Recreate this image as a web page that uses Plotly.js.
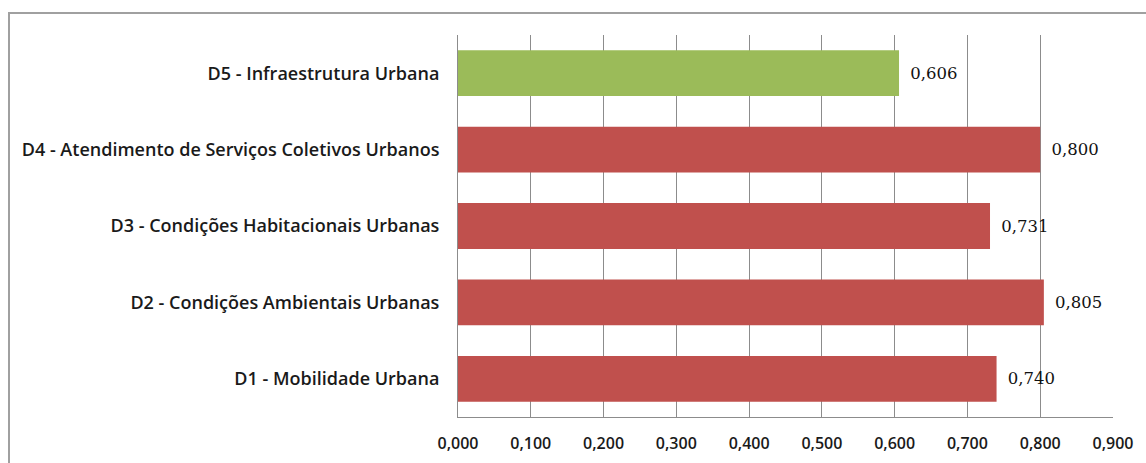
<!DOCTYPE html>
<html><head><meta charset="utf-8">
<script src="https://cdn.plot.ly/plotly-3.0.1.min.js"></script>
<style>html,body{margin:0;padding:0;background:#fff;}#wrap{position:relative;width:1146px;height:463px;}
#frame{position:absolute;left:8px;top:12px;width:1200px;height:500px;border-left:2px solid #a0a0a0;border-top:2px solid #a0a0a0;pointer-events:none;}</style>
</head><body>
<div id="wrap"><div id="chart" style="width:1146px;height:463px;"></div><div id="frame"></div></div>
<script>
const categories = ["D1 - Mobilidade Urbana","D2 - Condições Ambientais Urbanas","D3 - Condições Habitacionais Urbanas","D4 - Atendimento de Serviços Coletivos Urbanos","D5 - Infraestrutura Urbana"];
const values = [0.740, 0.805, 0.731, 0.800, 0.606];
const barColors = ["#C0504D","#C0504D","#C0504D","#C0504D","#9BBB59"];
const xTicks = [0,0.1,0.2,0.3,0.4,0.5,0.6,0.7,0.8,0.9];

const font = "'Open Sans', 'Liberation Sans', sans-serif";
const trace = {
  type:'bar', orientation:'h', x: values, y: categories,
  marker:{color: barColors},
  texttemplate:'\u2002%{x:.3f}', textposition:'outside', cliponaxis:false,
  textfont:{family:"'DejaVu Serif', serif", size:16.5, color:'#111'},
  hoverinfo:'none'
};
const layout = {
  width:1146, height:463,
  margin:{l:458, r:33, t:35, b:46},
  separators:',.',
  bargap:0.4,
  showlegend:false,
  paper_bgcolor:'#fff', plot_bgcolor:'#fff',
  font:{family:font, color:'#000'},
  xaxis:{range:[0,0.9], tickvals:xTicks, tickformat:'.3f',
    showgrid:true, gridcolor:'#8c8c8c', gridwidth:1,
    showline:true, linecolor:'#8c8c8c', linewidth:1, mirror:false,
    ticks:'outside', ticklen:12, tickcolor:'rgba(0,0,0,0)',
    tickfont:{family:font, size:16, weight:600, color:'#1a1a1a'}, zeroline:false, fixedrange:true},
  yaxis:{type:'category', categoryorder:'array', categoryarray:categories,
    showline:true, linecolor:'#8c8c8c', linewidth:1,
    ticks:'outside', ticklen:14, tickcolor:'rgba(0,0,0,0)',
    tickfont:{family:font, size:18, weight:600, color:'#1a1a1a'}, showgrid:false, fixedrange:true}
};
Plotly.newPlot('chart',[trace],layout,{staticPlot:true});
</script>
</body></html>
